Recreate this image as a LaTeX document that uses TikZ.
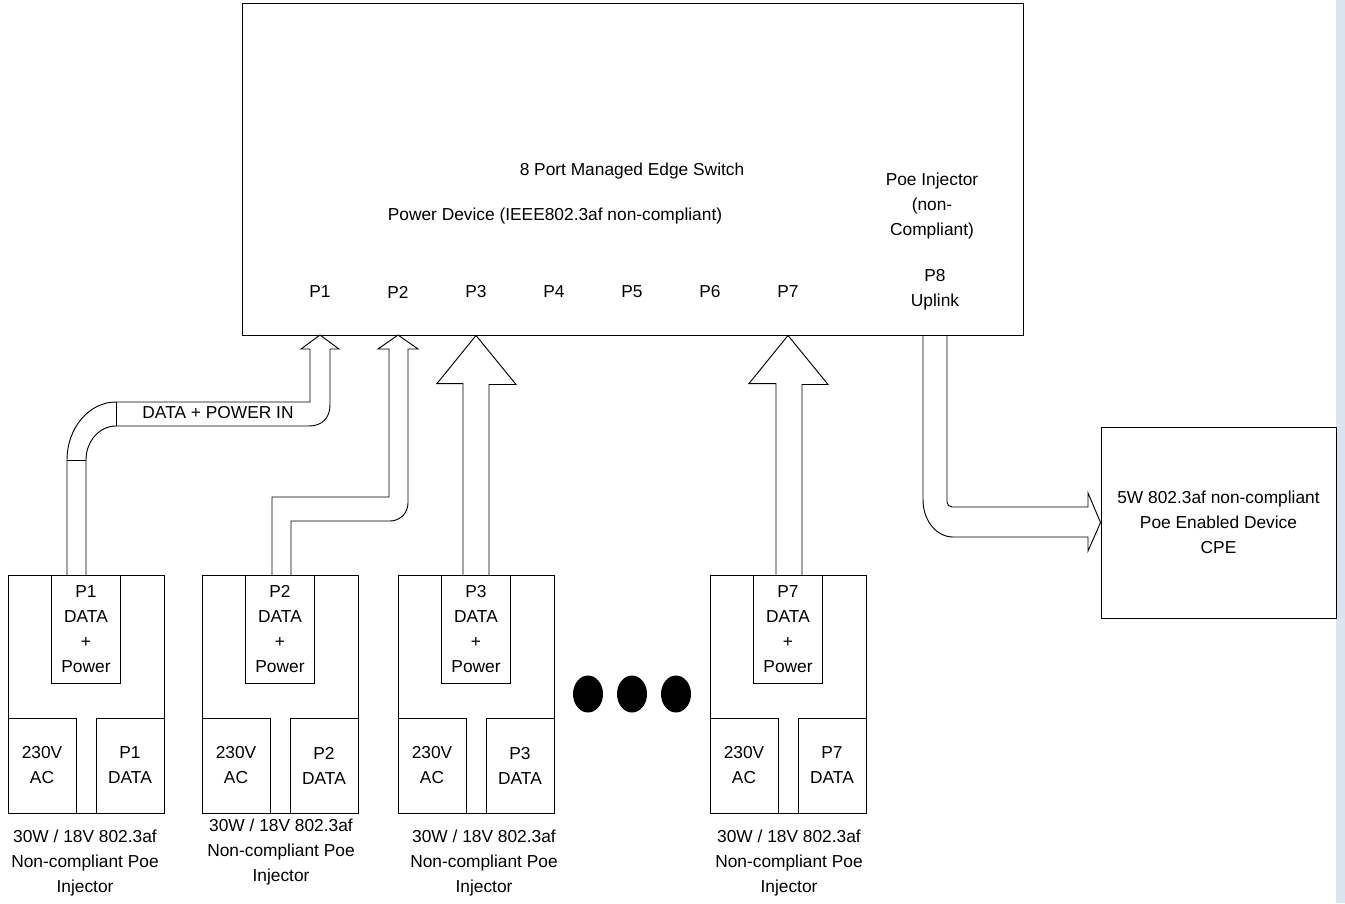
\documentclass[tikz,border=0pt]{standalone}
\usepackage{fontspec}
\setmainfont{Liberation Sans}
\usetikzlibrary{positioning}
\definecolor{sidebar}{RGB}{219,227,239}

\begin{document}
\begin{tikzpicture}[x=0.75pt,y=-0.75pt,line width=0.7pt,node distance=58.5pt,
  every node/.style={font=\fontsize{13}{18.75}\selectfont,align=center,inner sep=0pt},
  outer node/.style={draw,minimum width=117pt,minimum height=178.5pt},
  plug node/.style={draw,anchor=north,minimum width=51.75pt,minimum height=81pt},
  socket node/.style={draw,minimum width=51pt,minimum height=71.25pt}]
  \useasboundingbox (0,0) rectangle (1345,903);
  \fill[sidebar] (1336,0) rectangle (1345,903);

  % switch
  \node[draw,minimum width=585.75pt,minimum height=249pt] (sw) at (632.5,169) {};
  \node (title) at (632,171) {8 Port Managed Edge Switch};
  \node (pd) at (555,216) {Power Device (IEEE802.3af non-compliant)};
  \node (poe) at (932,206.5) {Poe Injector\\(non-\\Compliant)};
  \node (p8) at (935,290) {P8\\Uplink};
  \node (p1) at (320,292) {P1};
  \node (p2) [right of=p1] {P2};
  \node (p3) [right of=p2] {P3};
  \node (p4) [right of=p3] {P4};
  \node (p5) [right of=p4] {P5};
  \node (p6) [right of=p5] {P6};
  \node (p7) [right of=p6] {P7};

  % device
  \node[draw,minimum width=176.25pt,minimum height=143.25pt] (cpe) at (1218.5,522.5)
    {5W 802.3af non-compliant\\Poe Enabled Device\\CPE};

  % injectors
  \node[outer node] (i1) at (86,694) {};
  \node[plug node] (i1top) at (i1.north) {P1\\DATA\\+\\Power};
  \node[socket node,anchor=south west] (i1ac) at (i1.south west) {230V\\AC};
  \node[socket node,anchor=south east] (i1dat) at (i1.south east) {P1\\DATA};
  \node (i1cap) at (85,863) {30W / 18V 802.3af\\Non-compliant Poe\\Injector};

  \node[outer node] (i2) at (280,694) {};
  \node[plug node] (i2top) at (i2.north) {P2\\DATA\\+\\Power};
  \node[socket node,anchor=south west] (i2ac) at (i2.south west) {230V\\AC};
  \node[socket node,anchor=south east] (i2dat) at (i2.south east) {P2\\DATA};
  \node (i2cap) at (281,852.5) {30W / 18V 802.3af\\Non-compliant Poe\\Injector};

  \node[outer node] (i3) at (476,694) {};
  \node[plug node] (i3top) at (i3.north) {P3\\DATA\\+\\Power};
  \node[socket node,anchor=south west] (i3ac) at (i3.south west) {230V\\AC};
  \node[socket node,anchor=south east] (i3dat) at (i3.south east) {P3\\DATA};
  \node (i3cap) at (484,863) {30W / 18V 802.3af\\Non-compliant Poe\\Injector};

  \node[outer node] (i7) at (788,694) {};
  \node[plug node] (i7top) at (i7.north) {P7\\DATA\\+\\Power};
  \node[socket node,anchor=south west] (i7ac) at (i7.south west) {230V\\AC};
  \node[socket node,anchor=south east] (i7dat) at (i7.south east) {P7\\DATA};
  \node (i7cap) at (789,863) {30W / 18V 802.3af\\Non-compliant Poe\\Injector};

  \fill (588,694) ellipse [x radius=15, y radius=18.5];
  \fill (632,694) ellipse [x radius=15, y radius=18.5];
  \fill (676,694) ellipse [x radius=15, y radius=18.5];

  % block arrows
  \coordinate (t3) at (sw.south -| i3top.north);
  \coordinate (t7) at (sw.south -| i7top.north);
  \draw (i3top.north) ++(-13,0) -- ++(0,-191) -- ++(-26,0) -- (t3) -- ++(40,49) -- ++(-27,0) -- ++(0,191);
  \draw (i7top.north) ++(-12,0) -- ++(0,-191) -- ++(-27,0) -- (t7) -- ++(40,49) -- ++(-26,0) -- ++(0,191);

  \draw (67,575) -- (67,460) .. controls (67,428) and (88.9,402) .. (116,402) -- (310,402)
    -- (310,349) -- (301,349) -- (320,335) -- (339,349) -- (330,349) -- (330,405)
    .. controls (330,418) and (322,426) .. (309,426) -- (116,426)
    .. controls (99.4,426) and (86,441.2) .. (86,460) -- (86,575);
  \draw (116,402) -- (116,426);
  \draw (67,460) -- (86,460);
  \node (dpin) at (218,413) {DATA + POWER IN};

  \draw (272,575) -- (272,497) -- (389,497) -- (389,349) -- (378,349) -- (398,335)
    -- (418,349) -- (408,349) -- (408,503) .. controls (408,513) and (400,521) .. (390,521)
    -- (291,521) -- (291,575);

  \draw (923,335) -- (923,500) .. controls (923,520.4) and (936.4,537) .. (953,537)
    -- (1088,537) -- (1088,551) -- (cpe.west) -- (1088,493) -- (1088,507) -- (952,507)
    .. controls (949.2,507) and (947,504.8) .. (947,502) -- (947,335);
\end{tikzpicture}
\end{document}
